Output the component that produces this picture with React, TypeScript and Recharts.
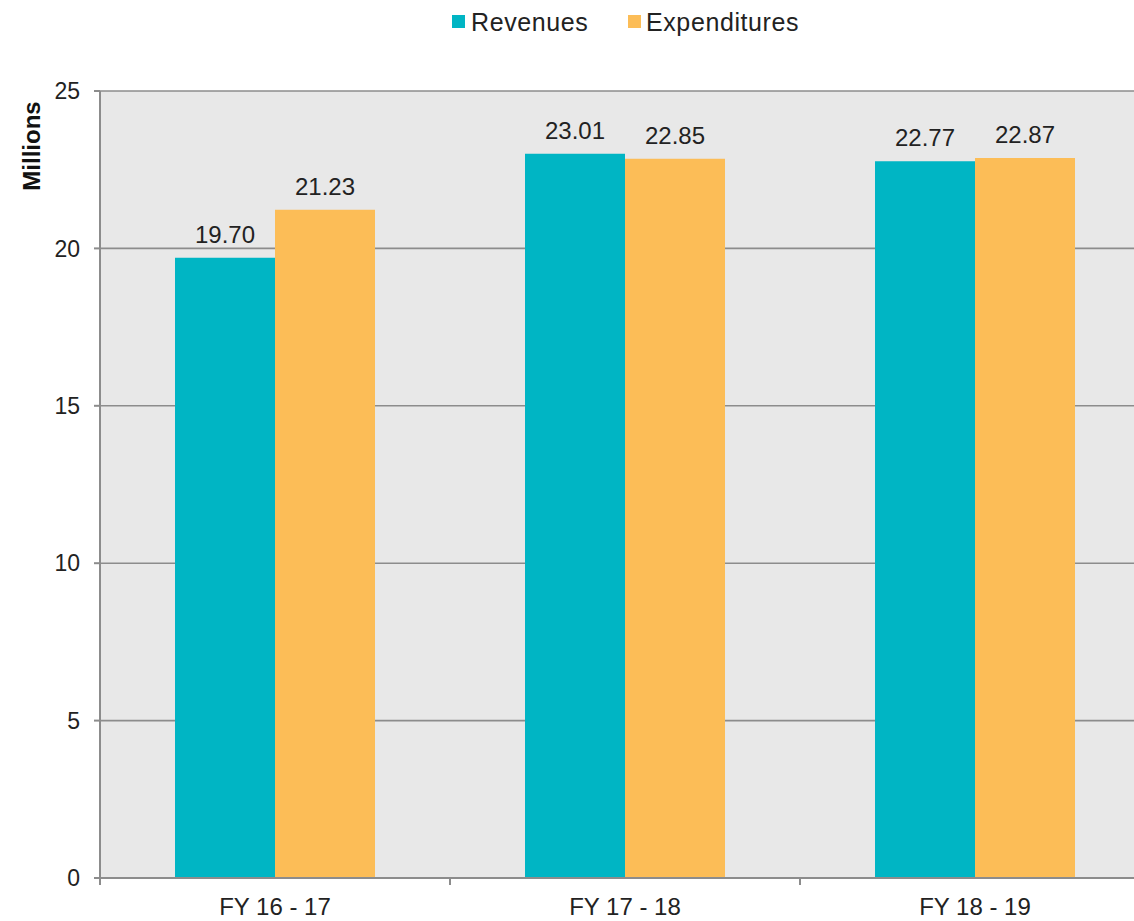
import React from 'react';
import { BarChart, Bar, XAxis, YAxis, CartesianGrid, Legend, LabelList } from 'recharts';

const years = ['FY 16 - 17', 'FY 17 - 18', 'FY 18 - 19'];
const revenues = [19.7, 23.01, 22.77];
const expenditures = [21.23, 22.85, 22.87];
const yTicks = [0, 5, 10, 15, 20, 25];

const data = years.map((year, i) => ({ year, Revenues: revenues[i], Expenditures: expenditures[i] }));

const TEAL = '#00b5c4';
const ORANGE = '#fcbd57';
const AXIS = '#8c8c8c';
const FONT = '"Liberation Sans", Arial, Helvetica, sans-serif';
const X_TICK_MARGIN = 20;

const LegendContent = () => (
  <div style={{ position: 'relative', width: 1150, height: 40, fontFamily: FONT, color: '#222' }}>
    <span style={{ position: 'absolute', left: 452, top: 15, width: 13, height: 13, background: TEAL }} />
    <span style={{ position: 'absolute', left: 471, top: 7, fontSize: 25, lineHeight: '30px', letterSpacing: 0.6 }}>Revenues</span>
    <span style={{ position: 'absolute', left: 628, top: 15, width: 13, height: 13, background: ORANGE }} />
    <span style={{ position: 'absolute', left: 646, top: 7, fontSize: 25, lineHeight: '30px', letterSpacing: 0.6 }}>Expenditures</span>
  </div>
);

const fmt = (v: number) => v.toFixed(2);

const CategoryTick = (p: any) => {
  const count = p.visibleTicksCount || years.length;
  const half =
    p.payload && typeof p.payload.offset === 'number' && p.payload.offset > 0
      ? p.payload.offset
      : (Number(p.width) || 0) / count / 2;
  const axisY = p.y - X_TICK_MARGIN;
  const left = p.x - half;
  const right = p.x + half;
  return (
    <g>
      <line x1={left} x2={left} y1={axisY} y2={axisY + 7} stroke={AXIS} strokeWidth={2} />
      {p.index === count - 1 ? (
        <line x1={right} x2={right} y1={axisY} y2={axisY + 7} stroke={AXIS} strokeWidth={2} />
      ) : null}
      <text x={p.x} y={p.y} dy="0.71em" textAnchor="middle" fill="#222" fontSize={24} fontFamily={FONT}>
        {p.payload ? p.payload.value : ''}
      </text>
    </g>
  );
};

export default function App() {
  return (
    <div style={{ position: 'absolute', left: 0, top: 0, width: 1134, height: 921, overflow: 'hidden', background: '#fff' }}>
      <BarChart
        width={1150}
        height={921}
        data={data}
        margin={{ top: 51, right: 0, bottom: 0, left: 0 }}
        barCategoryGap="21.43%"
        barGap={0}
      >
        <Legend verticalAlign="top" content={<LegendContent />} wrapperStyle={{ top: 0, left: 0, width: 1150, height: 40 }} />
        <CartesianGrid vertical={false} fill="#e8e8e8" stroke={AXIS} strokeWidth={1.6} />
        <XAxis
          dataKey="year"
          height={43}
          axisLine={{ stroke: AXIS, strokeWidth: 2 }}
          tickLine={false}
          tickSize={0}
          tickMargin={X_TICK_MARGIN}
          tick={CategoryTick}
        />
        <YAxis
          width={100}
          domain={[0, 25]}
          ticks={yTicks}
          interval={0}
          axisLine={{ stroke: AXIS, strokeWidth: 2 }}
          tickLine={{ stroke: AXIS, strokeWidth: 2 }}
          tickSize={6}
          tickMargin={14}
          tick={{ fill: '#222', fontSize: 23, fontFamily: FONT }}
          label={(props: any) => {
            const vb = props.viewBox || { x: 0, y: 91 };
            const cx = vb.x + 31;
            const cy = vb.y + 55;
            return (
              <text
                x={cx}
                y={cy}
                transform={`rotate(-90 ${cx} ${cy})`}
                textAnchor="middle"
                dominantBaseline="central"
                fontSize={24}
                fontWeight="bold"
                fontFamily={FONT}
                fill="#111"
              >
                Millions
              </text>
            );
          }}
        />
        <Bar dataKey="Revenues" fill={TEAL} isAnimationActive={false}>
          <LabelList dataKey="Revenues" position="top" offset={15} formatter={fmt as any} style={{ fill: '#222', fontSize: 24, fontFamily: FONT }} />
        </Bar>
        <Bar dataKey="Expenditures" fill={ORANGE} isAnimationActive={false}>
          <LabelList dataKey="Expenditures" position="top" offset={15} formatter={fmt as any} style={{ fill: '#222', fontSize: 24, fontFamily: FONT }} />
        </Bar>
      </BarChart>
    </div>
  );
}
